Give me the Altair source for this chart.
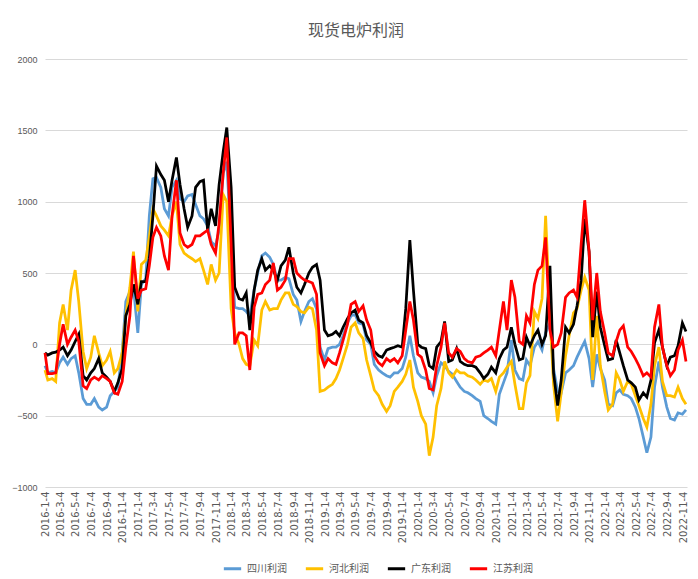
import altair as alt
import pandas as pd

# x categories: half-month sampling points (first point is the series start)
dates = ["2016-01-04", "2016-01-15"] + [
    f"{y}-{m:02d}-{d:02d}"
    for y in range(2016, 2023)
    for m in range(1, 13)
    for d in (1, 15)
    if (2016, 1) < (y, m) <= (2022, 11)
]

sichuan = [-150, -200, -190, -200, -130, -90, -140, -100, -80, -200, -380, -420, -420, -380, -440, -460, -440, -360, -330, -300, -50, 300, 370,
           400, 80, 420, 460, 900, 1160, 1170, 1100, 950, 900, 1100, 1150, 1020, 1000, 1040, 1050, 980, 900, 880, 830, 720, 690, 800, 1200, 1280,
           700, 260, 250, 250, 230, 200, 380, 500, 620, 640, 610, 560, 450, 450, 470, 460, 350, 310, 160, 230, 300, 320, 250, -20,
           -110, -30, -20, -20, 0, 60, 150, 200, 210, 150, 140, 30, 0, -140, -180, -200, -220, -230, -200, -200, -170, -90, 60, -80,
           -200, -230, -240, -260, -340, -220, -130, -150, -190, -210, -260, -300, -330, -340, -360, -380, -400, -500, -520, -540, -560, -350, -270, -200,
           30, -180, -240, -250, -110, -150, -20, 20, -40, 80, 150, -170, -330, -340, -200, -180, -150, -90, -30, 20, -100, -300, -70, -170,
           -250, -420, -430, -340, -320, -350, -360, -380, -440, -520, -650, -760, -650, -300, -120, -300, -440, -520, -530, -480, -490, -460]

hebei = [-180, -250, -240, -260, 150, 280, 100, 380, 520, 300, -50, -170, -90, 60, -60, -150, -110, -50, -200, -170, -60, 200, 400,
         650, 230, 560, 590, 750, 950, 900, 830, 800, 760, 900, 1000, 700, 640, 620, 600, 580, 600, 520, 420, 560, 450, 500, 1050, 1000,
         250, 80, 0, -100, -140, -150, 30, -10, 240, 300, 240, 250, 250, 310, 360, 360, 280, 265, 230, 220, 260, 250, 100, -330,
         -320, -300, -280, -240, -180, -100, 0, 120, 150, 80, 40, -110, -220, -320, -360, -420, -470, -430, -330, -300, -260, -210, -110, -300,
         -400, -500, -560, -780, -650, -430, -310, -120, -200, -230, -180, -200, -200, -220, -230, -250, -280, -250, -260, -240, -330, -230, -200, -160,
         -120, -280, -450, -450, -270, -220, 230, 180, 320, 900, 200, -280, -540, -340, -80, 60, 220, 250, 380, 470, 380, -250, 200, -150,
         -330, -460, -420, -200, -250, -330, -260, -280, -360, -430, -520, -580, -420, -150, -20, -260, -360, -360, -370, -300, -380, -420]

guangdong = [-60, -75, -60, -55, -40, -20, -80, -40, 20, 70, -220, -250, -200, -170, -100, -200, -230, -260, -330, -270, -170, 200, 280,
             420, 280, 440, 440, 600, 900, 1250, 1190, 1150, 1000, 1150, 1310, 1120, 950, 820, 900, 1100, 1140, 1150, 800, 950, 830, 1120, 1350, 1520,
             1100, 400, 320, 310, 360, 100, 380, 520, 600, 520, 550, 520, 450, 550, 590, 680, 500, 400, 360, 420, 500, 540, 560, 450,
             100, 60, 70, 90, 60, 120, 180, 220, 240, 170, 150, 60, 10, -50, -80, -90, -40, -30, -20, -10, -20, 250, 730, 380,
             0, -20, -30, -150, -170, -20, 20, 160, -120, -110, -30, -120, -140, -150, -150, -160, -200, -240, -210, -160, -200, -100, -40, -20,
             120, 0, -110, -100, 50, -10, 60, 100, 0, 60, 550, -200, -430, -250, 120, 80, 140, 270, 450, 880, 650, 50, 370, 120,
             -10, -110, -100, 30, -60, -150, -250, -270, -300, -390, -340, -370, -250, 10, 100, -20, -150, -90, -80, -10, 150, 90]

jiangsu = [-60, -205, -205, -200, 0, 140, 0, 50, 100, 20, -290, -310, -250, -230, -250, -220, -240, -260, -340, -350, -260, -20, 200,
           620, 320, 380, 390, 550, 750, 820, 760, 620, 520, 900, 1150, 780, 700, 680, 700, 760, 760, 780, 800, 700, 640, 850, 1200, 1450,
           700, 0, 80, 80, 60, -180, 260, 350, 360, 420, 450, 570, 380, 400, 450, 600, 600, 500, 470, 450, 440, 430, 350, -60,
           -150, -100, -130, -140, -60, 30, 140, 280, 300, 230, 270, 170, 100, -80, -130, -150, -100, -120, -100, -130, -80, 100, 300, 170,
           -70, -90, -180, -310, -320, -150, -20, 150, -60, -90, -30, -50, -100, -120, -130, -90, -80, -60, -40, -20, -80, 100, 300, 100,
           450, 330, 20, 0, 200, 150, 420, 520, 550, 750, 100, -20, 0, 80, 330, 360, 380, 330, 700, 1010, 650, 170, 500, 230,
           80, -60, -80, 20, 100, 130, -20, -50, -100, -150, -220, -200, -230, 120, 280, -20, -150, -220, -180, -40, 30, -120]

names = ["四川利润", "河北利润", "广东利润", "江苏利润"]
colors = ["#5B9BD5", "#FFC000", "#000000", "#FF0000"]
series = [sichuan, hebei, guangdong, jiangsu]
y_ticks = [-1000, -500, 0, 500, 1000, 1500, 2000]

rows = []
for n, vals in zip(names, series):
    for d, v in zip(dates, vals):
        rows.append({"date": d, "series": n, "value": v})
df = pd.DataFrame(rows)

tick_vals = [alt.DateTime(year=y, month=m, date=4, utc=True)
             for y in range(2016, 2023) for m in (1, 3, 5, 7, 9, 11)]

base = alt.Chart(df).mark_line(strokeWidth=2.75).encode(
    x=alt.X("date:T",
            scale=alt.Scale(type="utc",
                            domain=[alt.DateTime(year=2016, month=1, date=4, utc=True),
                                    alt.DateTime(year=2022, month=11, date=19, utc=True)]),
            axis=alt.Axis(title=None, values=tick_vals,
                          labelExpr="utcFormat(datum.value, '%Y-%-m-%-d')",
                          labelAngle=270, labelFont="DejaVu Sans", labelFontSize=10,
                          labelColor="#595959", labelPadding=4, grid=False, domain=False,
                          ticks=False, labelOverlap=False, labelBound=False)),
    y=alt.Y("value:Q",
            scale=alt.Scale(domain=[-1000, 2000], nice=False),
            axis=alt.Axis(title=None, values=y_ticks, format="d",
                          labelFont="Liberation Sans", labelFontSize=9, labelColor="#595959",
                          labelPadding=8, grid=True, gridColor="#d9d9d9", gridWidth=1,
                          domain=False, ticks=False)),
    color=alt.Color("series:N",
                    scale=alt.Scale(domain=names, range=colors),
                    legend=alt.Legend(title=None, orient="none", legendX=177, legendY=499,
                                      direction="horizontal", symbolType="stroke",
                                      symbolStrokeWidth=3, symbolSize=300,
                                      labelFont="Noto Sans CJK SC", labelFontSize=10,
                                      labelColor="#595959", columnPadding=12)),
)

layers = [base.transform_filter(alt.datum.series == n) for n in names]

chart = alt.layer(*layers).properties(
    width=642,
    height=428,
    padding={"left": 37, "top": 51, "right": 3, "bottom": 88},
    autosize=alt.AutoSizeParams(type="none"),
    background="white",
    title=alt.TitleParams("现货电炉利润", font="Noto Sans CJK SC", fontSize=16,
                          fontWeight="normal", color="#595959", offset=16, dx=-10,
                          anchor="middle"),
).configure_view(strokeWidth=0)

chart.save("out.html", embed_options={"renderer": "svg", "actions": False})
